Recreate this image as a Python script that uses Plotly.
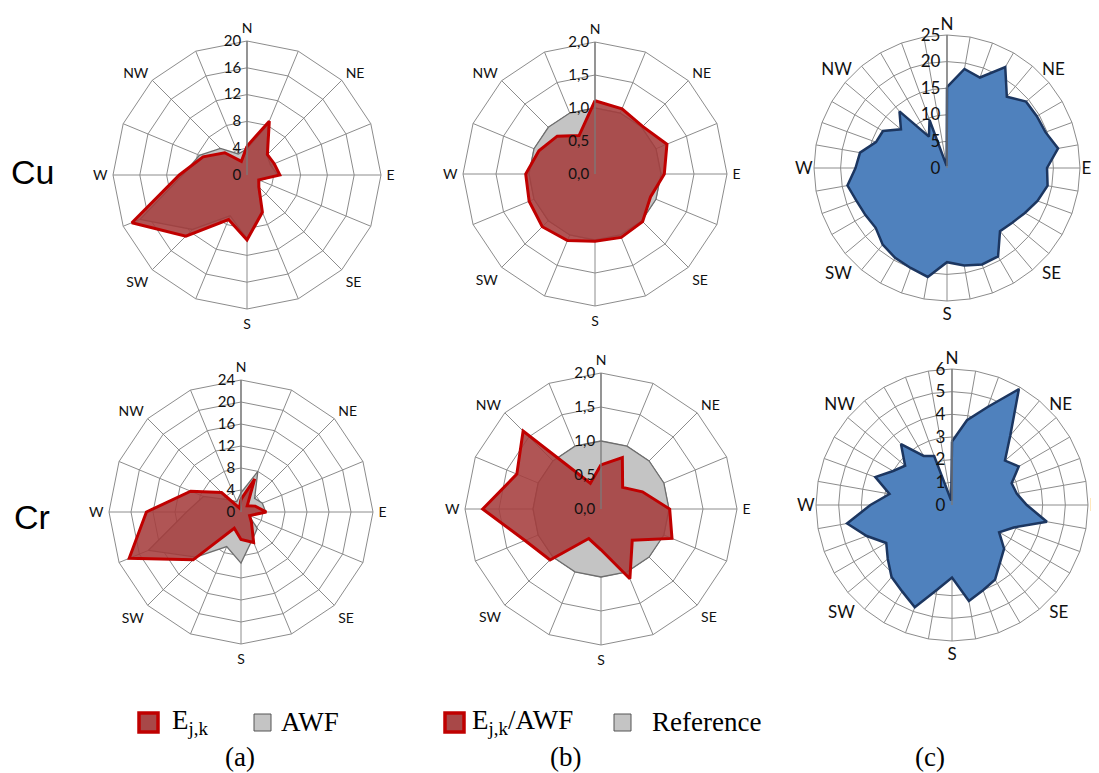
import plotly.graph_objects as go

# page body has an 8px default margin: reference pixel (x, y) -> figure pixel (x-8, y-8)
OFF = 8
FW, FH = 1091, 765

# ---------------- data ----------------
dirs16 = ['N', 'NNE', 'NE', 'ENE', 'E', 'ESE', 'SE', 'SSE',
          'S', 'SSW', 'SW', 'WSW', 'W', 'WNW', 'NW', 'NNW']

cu_e = [4.3, 8.7, 4.3, 4.4, 4.9, 1.9, 2.5, 6.0, 9.7, 7.2, 12.9, 18.6, 10.1, 7.1, 4.7, 2.2]
cu_awf = [3.9, 8.2, 4.2, 3.8, 4.6, 2.1, 2.4, 5.8, 9.5, 6.6, 11.5, 17.3, 9.6, 7.7, 5.6, 3.4]
cu_ratio = [1.11, 1.07, 1.02, 1.18, 1.05, 0.91, 1.02, 1.04, 1.02, 1.09, 1.13, 1.08, 1.05, 0.92, 0.81, 0.63]

cr_e = [2.3, 6.5, 1.6, 2.8, 4.6, 1.7, 2.7, 6.0, 5.0, 3.2, 12.3, 22.0, 17.2, 9.9, 5.0, 0.8]
cr_awf = [3.5, 8.0, 3.5, 4.2, 4.5, 1.5, 4.2, 5.4, 9.3, 6.8, 11.6, 18.2, 9.9, 7.4, 3.1, 2.0]
cr_ratio = [0.65, 0.82, 0.45, 0.66, 1.01, 1.13, 0.65, 1.11, 0.60, 0.47, 1.06, 1.21, 1.74, 1.34, 1.62, 0.41]

reference = [1.0, 1.0, 1.0, 1.0, 1.0, 1.0, 1.0, 1.0, 1.0, 1.0, 1.0, 1.0, 1.0, 1.0, 1.0, 1.0]

dirs36 = ['0', '10', '20', '30', '40', '50', '60', '70', '80', '90', '100', '110',
          '120', '130', '140', '150', '160', '170', '180', '190', '200', '210', '220', '230',
          '240', '250', '260', '270', '280', '290', '300', '310', '320', '330', '340', '350']
cu_c = [15.2, 18.9, 18.1, 21.9, 17.5, 19.4, 19.5, 19.7, 21.2, 18.8, 19.2, 18.1,
        16.9, 16.0, 15.5, 19.2, 19.3, 18.6, 17.7, 20.8, 20.0, 19.5, 18.8, 17.5,
        17.7, 18.1, 19.0, 17.2, 16.6, 14.2, 13.9, 11.3, 13.9, 6.8, 9.6, 0.4]
cr_c = [2.8, 3.8, 4.6, 5.9, 4.0, 3.05, 3.4, 2.8, 2.9, 3.3, 4.25, 2.9,
        2.4, 3.0, 3.3, 3.8, 4.0, 4.3, 3.2, 3.8, 4.8, 4.4, 4.15, 3.7,
        3.35, 4.0, 4.7, 3.6, 2.8, 3.6, 3.0, 2.7, 3.5, 2.5, 2.3, 0.2]

compass8 = ['N', 'NE', 'E', 'SE', 'S', 'SW', 'W', 'NW']

ticks_a_cu = [0, 4, 8, 12, 16, 20]
ticks_a_cr = [0, 4, 8, 12, 16, 20, 24]
ticks_b = [0.0, 0.5, 1.0, 1.5, 2.0]
ticks_b_txt = ['0,0', '0,5', '1,0', '1,5', '2,0']
ticks_c_cu = [0, 5, 10, 15, 20, 25]
ticks_c_cr = [0, 1, 2, 3, 4, 5, 6]

# ---------------- styles ----------------
GRID = '#8c8c8c'
RED_LINE = '#c00000'
RED_FILL = 'rgba(165,62,62,0.88)'
GRAY_FILL = '#c4c4c4'
GRAY_LINE = '#6e6e6e'
BLUE_FILL = '#4f81bd'
BLUE_LINE = '#1c3660'
TICKFONT = 'Lato, Noto Sans, sans-serif'


def px(x):
    return (x - OFF) / FW


def py(y):
    return 1 - (y - OFF) / FH


def dom(cx, cy, r):
    return dict(x=[px(cx - r), px(cx + r)], y=[py(cy + r), py(cy - r)])


def closed(vals, cats):
    return list(vals) + [vals[0]], list(cats) + [cats[0]]


def polar_layout(domain, cats, rng, rvals, rtext, rfont):
    return dict(
        domain=domain, bgcolor='white', gridshape='linear', hole=0,
        angularaxis=dict(type='category', categoryarray=cats, rotation=90,
                         direction='clockwise', showticklabels=False,
                         showgrid=True, gridcolor=GRID, gridwidth=1,
                         showline=True, linecolor=GRID, linewidth=1, ticks=''),
        radialaxis=dict(range=rng, tickmode='array', tickvals=rvals, ticktext=rtext,
                        angle=90, tickangle=90, side='counterclockwise', showline=True,
                        linecolor='#7a7a7a', linewidth=1.3, showgrid=True, gridcolor=GRID,
                        gridwidth=1, ticks='',
                        tickfont=dict(family=TICKFONT, size=rfont, color='#111111')),
    )


def label_layout(domain, size):
    return dict(
        domain=domain, bgcolor='rgba(0,0,0,0)', gridshape='linear',
        angularaxis=dict(type='category', categoryarray=compass8, rotation=90,
                         direction='clockwise', showgrid=False, showline=False, ticks='',
                         tickfont=dict(family=TICKFONT, size=size, color='#111111')),
        radialaxis=dict(visible=False, range=[0, 1]),
    )


fig = go.Figure()


def add_pair(sub, back, front, cats):
    r, t = closed(back, cats)
    fig.add_trace(go.Scatterpolar(r=r, theta=t, subplot=sub, mode='lines', fill='toself',
                                  fillcolor=GRAY_FILL, line=dict(color=GRAY_LINE, width=1.3),
                                  showlegend=False, hoverinfo='skip'))
    r, t = closed(front, cats)
    fig.add_trace(go.Scatterpolar(r=r, theta=t, subplot=sub, mode='lines', fill='toself',
                                  fillcolor=RED_FILL, line=dict(color=RED_LINE, width=3),
                                  showlegend=False, hoverinfo='skip'))


add_pair('polar', cu_awf, cu_e, dirs16)          # (a) Cu
add_pair('polar2', reference, cu_ratio, dirs16)  # (b) Cu
add_pair('polar4', cr_awf, cr_e, dirs16)         # (a) Cr
add_pair('polar5', reference, cr_ratio, dirs16)  # (b) Cr

for sub, vals in (('polar3', cu_c), ('polar6', cr_c)):
    r, t = closed(vals, dirs36)
    fig.add_trace(go.Scatterpolar(r=r, theta=t, subplot=sub, mode='lines', fill='toself',
                                  fillcolor=BLUE_FILL, line=dict(color=BLUE_LINE, width=2.5),
                                  showlegend=False, hoverinfo='skip'))

C_CU_A = (247, 175, 134)
C_CU_B = (595, 174, 132)
C_CU_C = (947, 168, 133)
C_CR_A = (241, 512, 132)
C_CR_B = (601, 509, 136)
C_CR_C = (952, 505, 136)

fig.update_layout(
    width=FW, height=FH, margin=dict(l=0, r=0, t=0, b=0),
    paper_bgcolor='white', plot_bgcolor='white',
    polar=polar_layout(dom(*C_CU_A), dirs16, [0, 20], ticks_a_cu,
                       [str(v) for v in ticks_a_cu], 15),
    polar2=polar_layout(dom(*C_CU_B), dirs16, [0, 2], ticks_b, ticks_b_txt, 15),
    polar3=polar_layout(dom(*C_CU_C), dirs36, [0, 25], ticks_c_cu,
                        [str(v) for v in ticks_c_cu], 17),
    polar4=polar_layout(dom(*C_CR_A), dirs16, [0, 24], ticks_a_cr,
                        [str(v) for v in ticks_a_cr], 15),
    polar5=polar_layout(dom(*C_CR_B), dirs16, [0, 2], ticks_b, ticks_b_txt, 15),
    polar6=polar_layout(dom(*C_CR_C), dirs36, [0, 6], ticks_c_cr,
                        [str(v) for v in ticks_c_cr], 17),
)

# compass-label overlays (slightly larger radius for the 16-sector roses)
overlays = [
    ('polar7', C_CU_A, 5, 14), ('polar8', C_CU_B, 5, 14), ('polar9', C_CU_C, 1, 17),
    ('polar10', C_CR_A, 5, 14), ('polar11', C_CR_B, 5, 14), ('polar12', C_CR_C, 1, 17),
]
for name, (cx, cy, r), dr, size in overlays:
    fig.add_trace(go.Scatterpolar(r=[0] * len(compass8), theta=compass8, subplot=name,
                                  mode='markers', marker=dict(opacity=0),
                                  showlegend=False, hoverinfo='skip'))
    fig.layout[name] = label_layout(dom(cx, cy, r + dr), size)

annos = [
    dict(text='Cu', x=px(32), y=py(172)),
    dict(text='Cr', x=px(32), y=py(517)),
]
for a in annos:
    a.update(xref='paper', yref='paper', showarrow=False, xanchor='center', yanchor='middle',
             font=dict(family='Liberation Sans, Arial', size=34, color='black'))

serif = dict(family='Liberation Serif, Times New Roman, serif', size=27, color='black')
texts = [
    ('E<sub>j,k</sub>', 170, 722),
    ('AWF', 279, 722),
    ('E<sub>j,k</sub>/AWF', 470, 722),
    ('Reference', 650, 722),
]
for t, x, y in texts:
    annos.append(dict(text=t, x=px(x), y=py(y), xref='paper', yref='paper', showarrow=False,
                      xanchor='left', yanchor='middle', font=serif))
for t, x in (('(a)', 240), ('(b)', 565), ('(c)', 930)):
    annos.append(dict(text=t, x=px(x), y=py(757), xref='paper', yref='paper', showarrow=False,
                      xanchor='center', yanchor='middle', font=serif))
fig.update_layout(annotations=annos)

shapes = []
for x0 in (139, 445):
    shapes.append(dict(type='rect', xref='paper', yref='paper', x0=px(x0), x1=px(x0 + 19),
                       y0=py(732), y1=py(713), fillcolor='#a84848',
                       line=dict(color=RED_LINE, width=3.5)))
for x0 in (254, 614):
    shapes.append(dict(type='rect', xref='paper', yref='paper', x0=px(x0), x1=px(x0 + 17),
                       y0=py(731), y1=py(714), fillcolor='#c4c4c4',
                       line=dict(color='#555555', width=1)))
fig.update_layout(shapes=shapes)

fig.write_html('out.html', post_script="document.body.style.overflow='hidden';")
